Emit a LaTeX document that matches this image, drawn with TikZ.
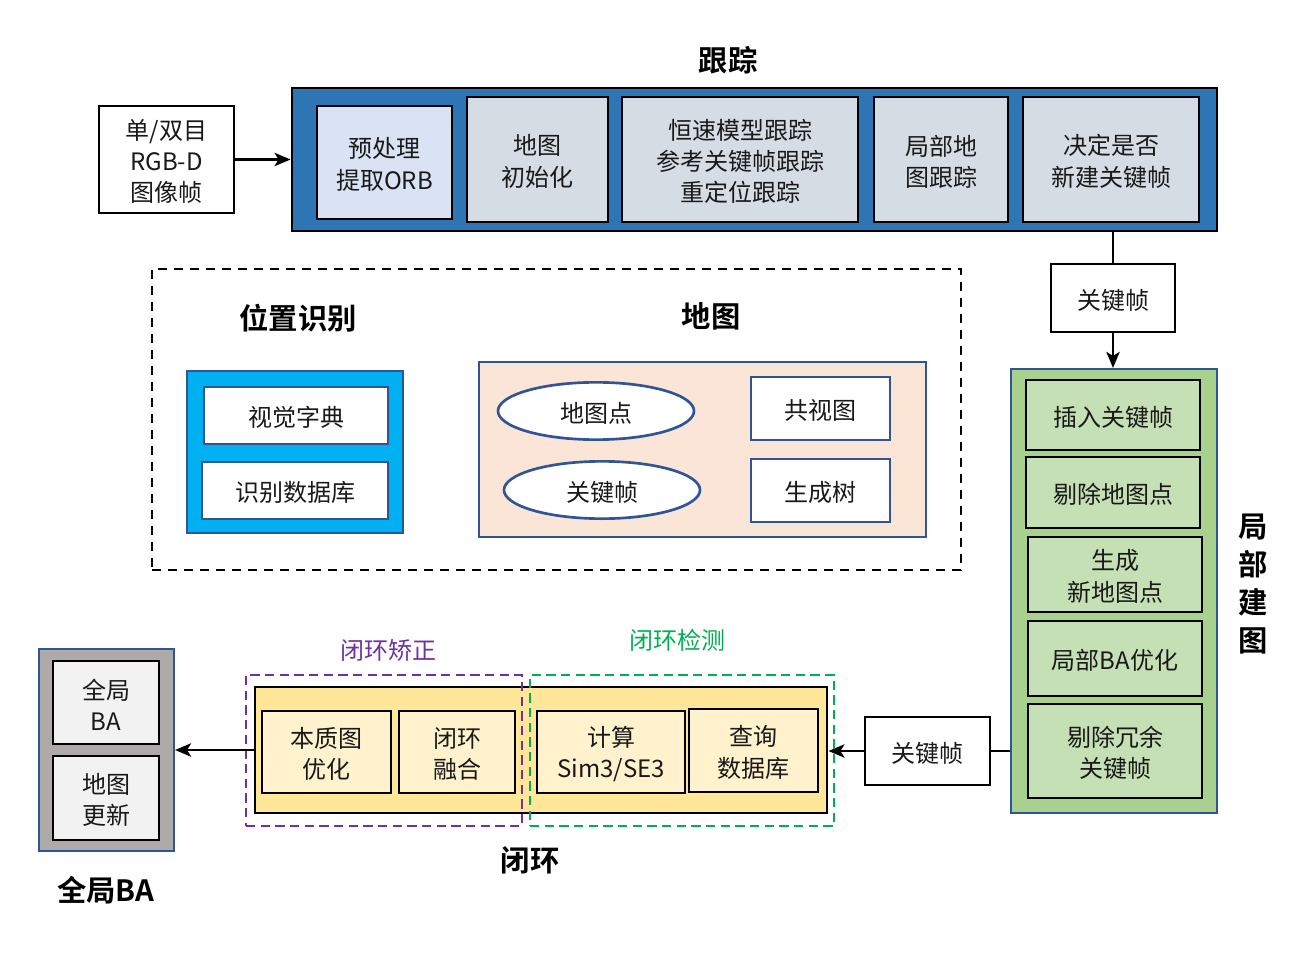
\documentclass[tikz,border=0pt]{standalone}
\usepackage{fontspec}
\setmainfont{Noto Sans CJK SC}[BoldFont={Noto Sans CJK SC Bold}]
\usetikzlibrary{arrows.meta,fit,shapes.geometric}
\definecolor{trackblue}{HTML}{2E75B6}
\definecolor{preblue}{HTML}{DAE3F3}
\definecolor{graybox}{HTML}{D6DCE4}
\definecolor{edgeblue}{HTML}{2F5597}
\definecolor{lgreen}{HTML}{A9D18E}
\definecolor{llgreen}{HTML}{C5E0B4}
\definecolor{yel}{HTML}{FFE699}
\definecolor{lyel}{HTML}{FFF2CC}
\definecolor{cyanb}{HTML}{00B0F0}
\definecolor{peach}{HTML}{FBE5D6}
\definecolor{gbgray}{HTML}{AEAAAA}
\definecolor{lgray}{HTML}{F2F2F2}
\definecolor{purp}{HTML}{7030A0}
\definecolor{grn}{HTML}{00B050}
\tikzset{
  txt/.style={font=\fontsize{18pt}{23.5pt}\selectfont, align=center, text=black!90, yshift=-1.5pt},
  bbox/.style={draw=black, line width=2.2pt, inner sep=0pt},
  ebox/.style={draw=edgeblue, line width=2pt, inner sep=0pt},
  outerb/.style={draw=edgeblue, line width=1.6pt, inner sep=0pt},
  title/.style={font=\fontsize{22pt}{29pt}\selectfont\bfseries, align=center},
  arr/.style={line width=1.8pt, -{Stealth[length=12pt,width=10pt,inset=3pt]}},
  ln/.style={line width=1.8pt},
}
\begin{document}
\begin{tikzpicture}[x=0.75pt,y=-0.75pt]
\useasboundingbox (0,0) rectangle (1302,966);

% ---------- Tracking ----------
\node[title] (ttrack) at (728,60) {跟踪};
\node[draw=black, line width=2.2pt, fill=trackblue, inner sep=0pt, fit={(292,88)(1217,231)}] (track) {};
\node[bbox, fill=preblue, fit={(317,106)(452,219)}] (pre) {};
\node[txt] at (pre.center) {预处理\\提取ORB};
\node[bbox, fill=graybox, fit={(467,97)(608,222)}] (init) {};
\node[txt] at (init.center) {地图\\初始化};
\node[bbox, fill=graybox, fit={(622,97)(858,222)}] (motion) {};
\node[txt] at (motion.center) {恒速模型跟踪\\参考关键帧跟踪\\重定位跟踪};
\node[bbox, fill=graybox, fit={(874,97)(1008,222)}] (localtrack) {};
\node[txt] at (localtrack.center) {局部地\\图跟踪};
\node[bbox, fill=graybox, fit={(1023,97)(1199,222)}] (decide) {};
\node[txt] at (decide.center) {决定是否\\新建关键帧};

% input
\node[bbox, fill=white, fit={(99,106)(234,213)}] (input) {};
\node[txt] at (input.center) {单/双目\\RGB-D\\图像帧};
\draw[arr] (input.east) -- (track.west |- input.east);

% keyframe (top)
\node[bbox, fill=white, fit={(1051,264)(1175,332)}] (kf1) {};
\node[txt] at (kf1.center) {关键帧};
\draw[ln] (track.south -| kf1.north) -- (kf1.north);

% ---------- Local mapping ----------
\node[outerb, fill=lgreen, fit={(1011,369)(1217,813)}] (lm) {};
\draw[arr] (kf1.south) -- (lm.north -| kf1.south);
\node[bbox, fill=llgreen, fit={(1026,380)(1200,450)}] (ins) {};
\node[txt] at (ins.center) {插入关键帧};
\node[bbox, fill=llgreen, fit={(1026,457)(1200,528)}] (cull) {};
\node[txt] at (cull.center) {剔除地图点};
\node[bbox, fill=llgreen, fit={(1028,537)(1202,612)}] (newpt) {};
\node[txt] at (newpt.center) {生成\\新地图点};
\node[bbox, fill=llgreen, fit={(1028,621)(1202,696)}] (lba) {};
\node[txt] at (lba.center) {局部BA优化};
\node[bbox, fill=llgreen, fit={(1028,704)(1202,798)}] (kfcull) {};
\node[txt] at (kfcull.center) {剔除冗余\\关键帧};
\node[title, font=\fontsize{22pt}{28.5pt}\selectfont\bfseries] (tlm) at (1253,584) {局\\部\\建\\图};

% keyframe (bottom)
\node[bbox, fill=white, fit={(865,717)(990,785)}] (kf2) {};
\node[txt] at (kf2.center) {关键帧};
\draw[ln] (lm.west |- kf2.east) -- (kf2.east);

% ---------- Loop closing ----------
\node[bbox, fill=yel, fit={(255,687)(827,813)}] (loop) {};
\draw[arr] (kf2.west) -- (loop.east |- kf2.west);
\node[bbox, fill=lyel, fit={(262,711)(391,793)}] (ess) {};
\node[txt] at (ess.center) {本质图\\优化};
\node[bbox, fill=lyel, fit={(399,711)(515,793)}] (fuse) {};
\node[txt] at (fuse.center) {闭环\\融合};
\node[bbox, fill=lyel, fit={(537,711)(685,793)}] (sim) {};
\node[txt] at (sim.center) {计算\\Sim3/SE3};
\node[bbox, fill=lyel, fit={(689,709)(818,792)}] (query) {};
\node[txt] at (query.center) {查询\\数据库};
\node[draw=purp, dash pattern=on 7pt off 4pt, line width=1.7pt, inner sep=0pt, fit={(246,675)(522,826)}] (corr) {};
\node[draw=grn, dash pattern=on 7pt off 4pt, line width=1.7pt, inner sep=0pt, fit={(530,675)(834,826)}] (det) {};
\node[txt, text=purp] (tcorr) at (388,648) {闭环矫正};
\node[txt, text=grn] (tdet) at (677,638) {闭环检测};
\node[title] (tloop) at (530,860) {闭环};

% ---------- Global BA ----------
\node[outerb, fill=gbgray, fit={(39,649)(174,851)}] (gba) {};
\node[bbox, fill=lgray, fit={(53,661)(159,744)}] (gba1) {};
\node[txt] at (gba1.center) {全局\\BA};
\node[bbox, fill=lgray, fit={(53,756)(159,840)}] (gba2) {};
\node[txt] at (gba2.center) {地图\\更新};
\node[title] (tgba) at (106,890) {全局BA};
\draw[arr] (loop.west) -- (gba.east |- loop.west);

% ---------- Recognition & Map ----------
\node[draw=black, dash pattern=on 7pt off 5pt, line width=2pt, inner sep=0pt, fit={(152,269)(961,570)}] (db) {};
\node[title] (trec) at (298,318) {位置识别};
\node[title] (tmap) at (711,316) {地图};
\node[outerb, fill=cyanb, fit={(187,371)(403,533)}] (rec) {};
\node[ebox, fill=white, fit={(204,387)(388,444)}] (voc) {};
\node[txt] at (voc.center) {视觉字典};
\node[ebox, fill=white, fit={(202,462)(388,519)}] (recdb) {};
\node[txt] at (recdb.center) {识别数据库};
\node[outerb, fill=peach, fit={(479,362)(926,537)}] (map) {};
\node[ebox, fill=white, ellipse, minimum width=147pt, minimum height=43pt] (mp) at (596,411) {};
\node[txt] at (mp.center) {地图点};
\node[ebox, fill=white, ellipse, minimum width=147pt, minimum height=43pt] (kfs) at (602,490) {};
\node[txt] at (kfs.center) {关键帧};
\node[ebox, fill=white, fit={(751,377)(890,440)}] (cov) {};
\node[txt] at (cov.center) {共视图};
\node[ebox, fill=white, fit={(751,459)(890,522)}] (st) {};
\node[txt] at (st.center) {生成树};
\end{tikzpicture}
\end{document}
